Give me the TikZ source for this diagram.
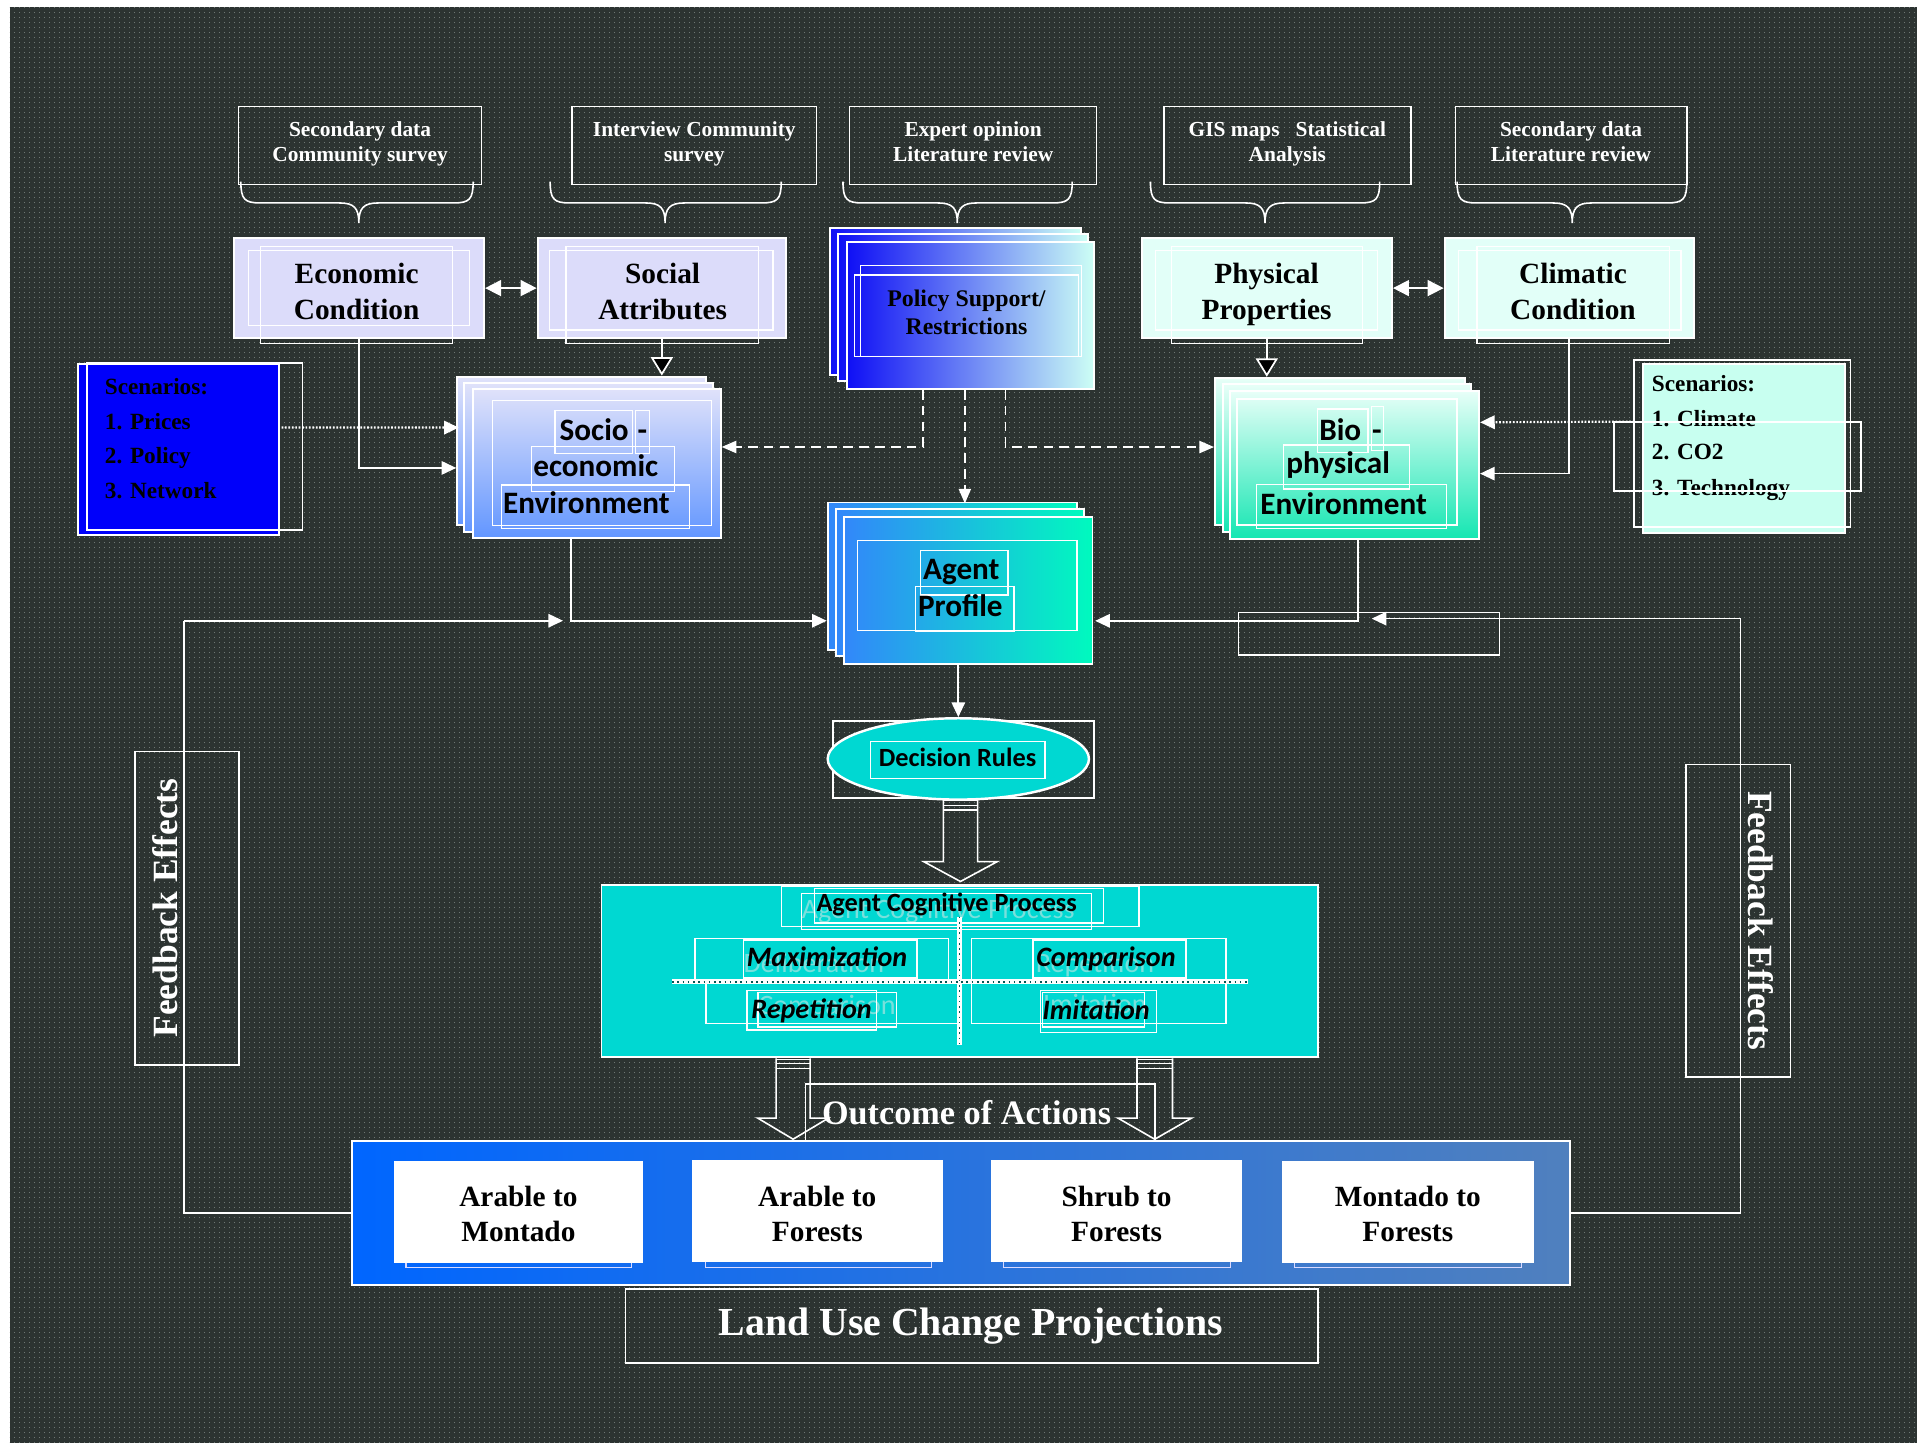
\documentclass[tikz,border=0pt]{standalone}
\usepackage{fontspec}
\setmainfont{Liberation Serif}
\newfontfamily\calfont{Carlito}
\usetikzlibrary{arrows.meta,calc,fit,shapes.geometric,patterns.meta}

\definecolor{bgslate}{RGB}{44,51,49}
\definecolor{bgdot}{RGB}{110,119,116}
\definecolor{lav}{RGB}{220,220,250}
\definecolor{mint}{RGB}{226,255,248}
\definecolor{mintb}{RGB}{200,255,240}
\definecolor{pureblue}{RGB}{0,0,250}
\definecolor{cogcyan}{RGB}{0,216,210}
\definecolor{ghostc}{RGB}{120,224,220}
\definecolor{polL}{RGB}{15,15,245}
\definecolor{polR}{RGB}{205,255,245}
\definecolor{socT}{RGB}{224,226,250}
\definecolor{socB}{RGB}{98,150,255}
\definecolor{bioT}{RGB}{232,255,248}
\definecolor{bioB}{RGB}{20,230,178}
\definecolor{agL}{RGB}{50,135,250}
\definecolor{agR}{RGB}{0,250,190}
\definecolor{botL}{RGB}{0,102,255}
\definecolor{botR}{RGB}{80,128,190}

\tikzdeclarepattern{
  name=bgdots, type=uncolored,
  bounding box={(0pt,0pt) and (4pt,4pt)},
  tile size={(4pt,4pt)},
  code={\fill (0pt,0pt) rectangle (0.8pt,0.8pt);}
}

\tikzset{
  boxline/.style={inner sep=0pt, draw=white, line width=1.6pt},
  thinrect/.style={draw=white, line width=1pt},
  lbl/.style={inner sep=0pt, anchor=base},
  srct/.style={lbl, text=white, font=\fontsize{17.5}{20}\selectfont\bfseries},
  headt/.style={lbl, font=\fontsize{24}{28}\selectfont\bfseries},
  polt/.style={lbl, font=\fontsize{19.5}{23}\selectfont\bfseries},
  envt/.style={lbl, font=\calfont\bfseries\fontsize{25.5}{30}\selectfont},
  scent/.style={inner sep=0pt, anchor=base west, font=\fontsize{19}{22}\selectfont\bfseries},
  cogt/.style={lbl, font=\calfont\bfseries\itshape\fontsize{23}{27}\selectfont},
  ghostt/.style={inner sep=0pt, anchor=base west, text=ghostc, font=\calfont\fontsize{23}{27}\selectfont},
  outt/.style={lbl, font=\fontsize{24}{28}\selectfont\bfseries},
  conn/.style={draw=white, line width=1.4pt},
  wtip/.style={conn, -{Triangle[length=12pt,width=11pt]}},
  btip/.style={conn, -{Triangle[length=15pt,width=18pt,fill=black]}},
  twotip/.style={conn, {Triangle[length=13pt,width=13pt]}-{Triangle[length=13pt,width=13pt]}},
  dashconn/.style={conn, dash pattern=on 8pt off 5pt},
  dotconn/.style={conn, line width=1.8pt, dash pattern=on 1.4pt off 1.4pt},
}

% curly brace under a source box: left end, tip, right end
\newcommand\srcbrace[3]{%
  \draw[white,line width=1.3pt] (#1,148.5) .. controls (#1,163) and (#1+3,166) .. (#1+16,166)
    -- (#2-16,166) .. controls (#2-4,166) and (#2,170) .. (#2,182.5)
    .. controls (#2,170) and (#2+4,166) .. (#2+16,166)
    -- (#3-16,166) .. controls (#3-3,166) and (#3,163) .. (#3,148.5);}

% hollow block arrow: centre x, top, head base, tip, shaft half width, head half width
\newcommand\blockarrow[6]{%
  \draw[white,line width=1.3pt,line join=miter] (#1-#5,#2) -- (#1-#5,#3) -- (#1-#6,#3)
    -- (#1,#4) -- (#1+#6,#3) -- (#1+#5,#3) -- (#1+#5,#2);
  \draw[white,line width=0.9pt] (#1-#5,#2+1) -- (#1+#5,#2+1) (#1-#5,#2+4.5) -- (#1+#5,#2+4.5)
    (#1-#5,#2+8.5) -- (#1+#5,#2+8.5);}

\begin{document}
\begin{tikzpicture}[x=1pt,y=-1pt]
\useasboundingbox (0,0) rectangle (1568,1180);
\fill[white] (0,0) rectangle (1568,1180);
\fill[bgslate] (8,6) rectangle (1568,1180);
\fill[pattern=bgdots, pattern color=bgdot] (8,6) rectangle (1568,1180);

% ---------- data sources ----------
\node[fit={(195,87)(394,151)}, boxline, line width=1.3pt] (src1) {};
\node[fit={(467.7,87)(668,151)}, boxline, line width=1.3pt] (src2) {};
\node[fit={(695,87)(897,151)}, boxline, line width=1.3pt] (src3) {};
\node[fit={(952,87)(1154,151)}, boxline, line width=1.3pt] (src4) {};
\node[fit={(1190.5,87)(1379.7,151)}, boxline, line width=1.3pt] (src5) {};
\node[srct] (s1a) at (294.5,111.8) {Secondary data};
\node[srct] (s1b) at (294.5,132) {Community survey};
\node[srct] (s2a) at (567.9,111.8) {Interview Community};
\node[srct] (s2b) at (567.9,132) {survey};
\node[srct] (s3a) at (796,111.8) {Expert opinion};
\node[srct] (s3b) at (796,132) {Literature review};
\node[srct] (s4a) at (1053,111.8) {GIS maps\ \ \ Statistical};
\node[srct] (s4b) at (1053,132) {Analysis};
\node[srct] (s5a) at (1285,111.8) {Secondary data};
\node[srct] (s5b) at (1285,132) {Literature review};
\srcbrace{197}{293.5}{387}
\srcbrace{450}{544}{639}
\srcbrace{689.5}{783}{877}
\srcbrace{941}{1034.7}{1128.5}
\srcbrace{1191.8}{1286}{1379.7}

% ---------- condition boxes ----------
\node[fit={(191.5,194.8)(396,276.5)}, boxline, fill=lav] (econ) {};
\node[fit={(439.7,194.8)(643,276.5)}, boxline, fill=lav] (social) {};
\node[fit={(933.7,194.8)(1138.6,276.5)}, boxline, fill=mint] (phys) {};
\node[fit={(1181.6,194.8)(1385.3,276.5)}, boxline, fill=mint] (clim) {};
\draw[thinrect] (203,205) rectangle (384,266) (213,201.7) rectangle (370,281);
\draw[thinrect] (449.7,205) rectangle (632.3,270) (463,201.7) rectangle (620.6,281);
\draw[thinrect] (945.4,205) rectangle (1127,270) (958,201.7) rectangle (1114.5,281);
\draw[thinrect] (1193,205) rectangle (1375,270) (1208,201.7) rectangle (1365.6,281);
\node[headt] (econa) at (291.7,232) {Economic};
\node[headt] (econb) at (291.7,261) {Condition};
\node[headt] (sociala) at (542,232) {Social};
\node[headt] (socialb) at (542,261) {Attributes};
\node[headt] (physa) at (1036,232) {Physical};
\node[headt] (physb) at (1036,261) {Properties};
\node[headt] (clima) at (1286.6,232) {Climatic};
\node[headt] (climb) at (1286.6,261) {Condition};

% ---------- policy stack ----------
\node[fit={(679,186.2)(884,306.7)}, boxline, left color=polL, right color=polR] (pol3) {};
\node[fit={(685.6,191.4)(890,312)}, boxline, left color=polL, right color=polR] (pol2) {};
\node[fit={(693,197.7)(895,318)}, boxline, left color=polL, right color=polR] (pol) {};
\draw[thinrect] (703.6,217.3) rectangle (884.4,291.7) (698.8,224.9) rectangle (882,291.7);
\node[polt] (pola) at (790.5,250.5) {Policy Support/};
\node[polt] (polb) at (790.5,273.5) {Restrictions};

% ---------- scenario boxes ----------
\node[fit={(63.7,297.7)(228,437.6)}, boxline, fill=pureblue] (scl) {};
\draw[thinrect, line width=1.3pt] (71,297) rectangle (247.3,433.5);
\node[scent] (scl1) at (85.6,323) {Scenarios:};
\node[scent] (scl2) at (85.6,351.7) {1. Prices};
\node[scent] (scl3) at (85.6,379) {2. Policy};
\node[scent] (scl4) at (85.6,407.5) {3. Network};

\node[fit={(1343.6,297.7)(1509,436)}, boxline, fill=mintb] (scr) {};
\draw[thinrect, line width=1.3pt] (1336.5,294.5) rectangle (1513.7,431);
\node[scent] (scr1) at (1351,320) {Scenarios:};
\node[scent] (scr2) at (1351,349) {1. Climate};
\node[scent] (scr3) at (1351,376) {2. CO2};
\node[scent] (scr4) at (1351,405) {3. Technology};
\draw[thinrect, line width=1.3pt] (1320,345) rectangle (1522,401.4);

% ---------- socio-economic stack ----------
\node[fit={(374,308)(577.6,429.5)}, boxline, top color=socT, bottom color=socB] (soc3) {};
\node[fit={(379.6,313)(583,435)}, boxline, top color=socT, bottom color=socB] (soc2) {};
\node[fit={(387,318)(589.5,439.8)}, boxline, top color=socT, bottom color=socB] (soc) {};
\draw[thinrect] (403,327.7) rectangle (582,430) (454,336) rectangle (517.6,371)
  (520,336) rectangle (531,371) (434.5,365) rectangle (552,402) (410,396.7) rectangle (564,432);
\node[envt] (soca) at (486,360) {Socio};
\node[envt] (socd) at (525.5,360) {-};
\node[envt] (socb) at (487.3,390) {economic};
\node[envt] (socc) at (479.6,419.7) {Environment};

% ---------- bio-physical stack ----------
\node[fit={(993.8,309)(1198,429.5)}, boxline, top color=bioT, bottom color=bioB] (bio3) {};
\node[fit={(1000.4,314)(1203,435)}, boxline, top color=bioT, bottom color=bioB] (bio2) {};
\node[fit={(1006,319.8)(1209.8,441)}, boxline, top color=bioT, bottom color=bioB] (bio) {};
\draw[thinrect] (1011.7,326.4) rectangle (1191.7,429.5) (1077.8,334.5) rectangle (1119,370)
  (1122,332.5) rectangle (1131.8,368.5) (1050,364) rectangle (1153,400) (1028,396) rectangle (1183.4,432);
\node[envt] (bioa) at (1096.2,360) {Bio};
\node[envt] (biod) at (1126.3,360) {-};
\node[envt] (biob) at (1094.5,387.7) {physical};
\node[envt] (bioc) at (1099,421) {Environment};

% ---------- agent profile stack ----------
\node[fit={(677,411)(881,531.7)}, boxline, left color=agL, right color=agR] (ag3) {};
\node[fit={(684,416.5)(886.6,536.6)}, boxline, left color=agL, right color=agR] (ag2) {};
\node[fit={(690,422.6)(893.6,543)}, boxline, left color=agL, right color=agR] (ag) {};
\draw[thinrect] (701.4,442) rectangle (881,516) (753,450) rectangle (824.5,486.7)
  (749,479.6) rectangle (829.4,516.7);
\node[envt] (aga) at (786.3,474.4) {Agent};
\node[envt] (agb) at (785.5,504.4) {Profile};
\draw[thinrect] (1013,501) rectangle (1226.4,535.7);

% ---------- feedback boxes ----------
\node[fit={(110.4,614.7)(195.5,870.9)}, boxline, line width=1.3pt] (fbl) {};
\node[fit={(1378.8,625.4)(1464.6,881)}, boxline, line width=1.3pt] (fbr) {};
\node[inner sep=0pt, text=white, rotate=90, font=\fontsize{29}{33}\selectfont\bfseries] (fblt) at (135,742.7) {Feedback Effects};
\node[inner sep=0pt, text=white, rotate=-90, font=\fontsize{29}{33}\selectfont\bfseries] (fbrt) at (1440,753) {Feedback Effects};

% ---------- decision rules ----------
\draw[thinrect, line width=1.3pt] (681.5,589.5) rectangle (894.6,652.8);
\node[ellipse, draw=white, line width=2pt, fill=cogcyan, minimum width=213.7pt, minimum height=66.5pt, inner sep=0pt] (dec) at (783.85,620.75) {};
\draw[thinrect] (712,606.6) rectangle (854.7,636.6);
\node[lbl, font=\calfont\bfseries\fontsize{21.5}{25}\selectfont] (dect) at (783.2,627) {Decision Rules};

% ---------- agent cognitive process ----------
\node[fit={(492,724)(1078,864.3)}, boxline, fill=cogcyan] (cog) {};
\node[ghostt] (g1) at (655.6,751) {Agent Cognitive Process};
\node[ghostt] (g2) at (608,795.6) {Deliberation};
\node[ghostt] (g3) at (847,795.6) {Repetition};
\node[ghostt] (g4) at (620,830) {Comparison};
\node[ghostt] (g5) at (853,828.7) {Imitation};
\draw[thinrect] (639,725.3) rectangle (931.7,758) (666,726.6) rectangle (902.6,755)
  (655.6,730.7) rectangle (892.7,760.4);
\draw[thinrect] (568.5,767.5) rectangle (775.7,801) (608,768.9) rectangle (750,800)
  (794.8,767.5) rectangle (1002.8,837) (845,768.9) rectangle (970,800)
  (577.5,804) rectangle (785.6,837) (611,810) rectangle (717,842.5) (620,811.5) rectangle (733,840)
  (851,810) rectangle (946,844.7) (853,811.5) rectangle (936,840);
\draw[white, line width=4pt] (549.7,803) -- (1020.9,803) (784.8,749.8) -- (784.8,854.7);
\draw[cogcyan!40!black, line width=1.3pt, dash pattern=on 1.3pt off 3pt] (549.7,803) -- (1020.9,803) (784.8,749.8) -- (784.8,854.7);
\node[lbl, font=\calfont\bfseries\fontsize{21.5}{25}\selectfont] (cogt) at (774.4,745.7) {Agent Cognitive Process};
\node[cogt] (maxt) at (676.5,790.7) {Maximization};
\node[cogt] (compt) at (904.6,790.7) {Comparison};
\node[cogt] (rept) at (663.8,832.7) {Repetition};
\node[cogt] (imit) at (896.5,834) {Imitation};

% ---------- block arrows and outcome label ----------
\blockarrow{785.6}{654}{704.8}{721}{14}{30}
\blockarrow{648.7}{865.6}{914.6}{931.8}{13.9}{28.8}
\blockarrow{944.5}{865.6}{914.6}{931.8}{14.5}{30}
\draw[thinrect, line width=1.3pt] (658.8,886.6) rectangle (944.7,933);
\node[lbl, text=white, font=\fontsize{28}{32}\selectfont\bfseries] (outc) at (790.6,920) {Outcome of Actions};

% ---------- land use change outcomes ----------
\node[fit={(288,933)(1284,1051)}, boxline, left color=botL, right color=botR] (bot) {};
\draw[draw=white!85!blue, line width=1pt] (332,960) rectangle (516.8,1037) (577,960) rectangle (762,1036.5)
  (821,960) rectangle (1006.6,1036.5) (1059,960) rectangle (1244.6,1037);
\node[fit={(322,950)(526,1032.8)}, inner sep=0pt, fill=white] (o1) {};
\node[fit={(566,949)(771,1032)}, inner sep=0pt, fill=white] (o2) {};
\node[fit={(810.6,949)(1016,1032)}, inner sep=0pt, fill=white] (o3) {};
\node[fit={(1048.6,950)(1254.5,1032.8)}, inner sep=0pt, fill=white] (o4) {};
\node[outt] (o1a) at (424,987) {Arable to};
\node[outt] (o1b) at (424,1015.6) {Montado};
\node[outt] (o2a) at (668.5,987) {Arable to};
\node[outt] (o2b) at (668.5,1015.6) {Forests};
\node[outt] (o3a) at (913.3,987) {Shrub to};
\node[outt] (o3b) at (913.3,1015.6) {Forests};
\node[outt] (o4a) at (1151.5,987) {Montado to};
\node[outt] (o4b) at (1151.5,1015.6) {Forests};

\node[fit={(511.5,1054.3)(1078,1115)}, boxline, line width=1.3pt] (luc) {};
\node[lbl, text=white, font=\fontsize{32.5}{36}\selectfont\bfseries] (luct) at (794,1092) {Land Use Change Projections};

% ---------- connectors ----------
\coordinate (fbLcorner) at (150.5,507.7);
\coordinate (fbLtip) at (460.5,507.7);
\coordinate (fbRcorner) at (1423.7,506);
\coordinate (fbRtip) at (1122,506);
\draw[conn] (bot.west) -| (fbLcorner);
\draw[wtip] (fbLcorner) -- (fbLtip);
\draw[conn] (bot.east) -| (fbRcorner);
\draw[wtip] (fbRcorner) -- (fbRtip);

\draw[twotip] (econ.east) -- (social.west);
\draw[twotip] (phys.east) -- (clim.west);
\draw[btip] (social.south) -- (social.south |- soc3.north);
\draw[btip] (phys.south) -- (phys.south |- bio3.north);
\draw[wtip] (econ.south) |- ($(soc3.west)+(0,14)$);
\draw[dotconn, -{Triangle[length=12pt,width=11pt]}] ($(scl.east)+(1.5,-18)$) -- ($(soc3.west)+(2,-19)$);
\draw[wtip] (clim.south) |- ($(bio.east)+(0,7)$);
\draw[dotconn, -{Triangle[length=12pt,width=11pt]}] ($(scr.west)+(-6,-22)$) -- ($(bio.east)+(0,-35)$);

\draw[dashconn, -{Triangle[length=12pt,width=10pt]}] ($(pol.south)+(-39.2,0)$) |- ($(soc.east)+(0,-13.3)$);
\draw[dashconn, -{Triangle[length=12pt,width=10pt]}] ($(pol.south)+(28.4,0)$) |- ($(bio3.west)+(0,-3.6)$);
\draw[dashconn, -{Triangle[length=12pt,width=10pt]}] ($(pol.south)+(-4.8,0)$) -- ($(pol.south)+(-4.8,93)$);

\draw[wtip] ($(soc.south)+(-21.2,0)$) |- ($(ag3.west)+(0,36.4)$);
\draw[wtip] ($(bio.south)+(2.6,0)$) |- ($(ag.east)+(1.4,25)$);
\draw[wtip] (dec.north |- ag.south) -- (dec.north);
\end{tikzpicture}
\end{document}
